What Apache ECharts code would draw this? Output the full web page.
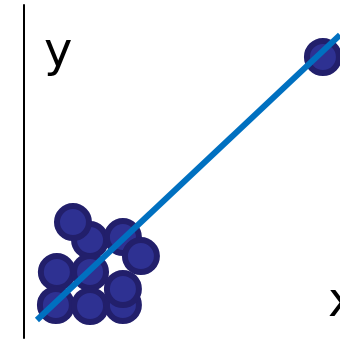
<!DOCTYPE html>
<html>
<head>
<meta charset="utf-8">
<style>
  html, body { margin: 0; padding: 0; background: #fff; }
  #chart { width: 340px; height: 339px; }
</style>
<script src="https://cdn.jsdelivr.net/npm/echarts@6/dist/echarts.min.js"></script>
</head>
<body>
<div id="chart"></div>
<script>
// points in draw order (later ones sit on top)
var pointX = [2.09, 1.55, 3.13, 3.70, 1.04, 2.09, 1.01, 2.09, 3.13, 3.13, 9.46];
var pointY = [2.94, 3.48, 3.03, 2.46, 1.98, 1.98, 0.99, 0.96, 0.99, 1.47, 8.44];
// fitted line end points
var lineX = [0.41, 10];
var lineY = [0.54, 9.10];

var points = pointX.map(function (x, i) { return [x, pointY[i]]; });
var line = lineX.map(function (x, i) { return [x, lineY[i]]; });

var chart = echarts.init(document.getElementById('chart'));
chart.setOption({
	animation : false,
	grid : { left : 24, right : 0, top : 5, bottom : 1 },
	xAxis : {
		type : 'value', min : 0, max : 10,
		axisLine : { show : false },
		axisTick : { show : false },
		axisLabel : { show : false },
		splitLine : { show : false }
	},
	yAxis : {
		type : 'value', min : 0, max : 10,
		axisLine : { show : true, onZero : false, lineStyle : { color : '#000', width : 2 } },
		axisTick : { show : false },
		axisLabel : { show : false },
		splitLine : { show : false }
	},
	graphic : [
		{ type : 'text', left : 44, top : 30, style : { text : 'y', fontSize : 48, fontFamily : 'DejaVu Sans', fill : '#000' } },
		{ type : 'text', left : 328, top : 280, style : { text : 'x', fontSize : 48, fontFamily : 'DejaVu Sans', fill : '#000' } }
	],
	series : [
		{
			type : 'scatter',
			data : points,
			symbolSize : 32,
			clip : false,
			itemStyle : { color : '#2E3192', borderColor : '#221F6B', borderWidth : 6, opacity : 1 }
		},
		{
			type : 'line',
			data : line,
			showSymbol : false,
			clip : false,
			z : 5,
			lineStyle : { color : '#0070C0', width : 6 }
		}
	]
});
</script>
</body>
</html>
